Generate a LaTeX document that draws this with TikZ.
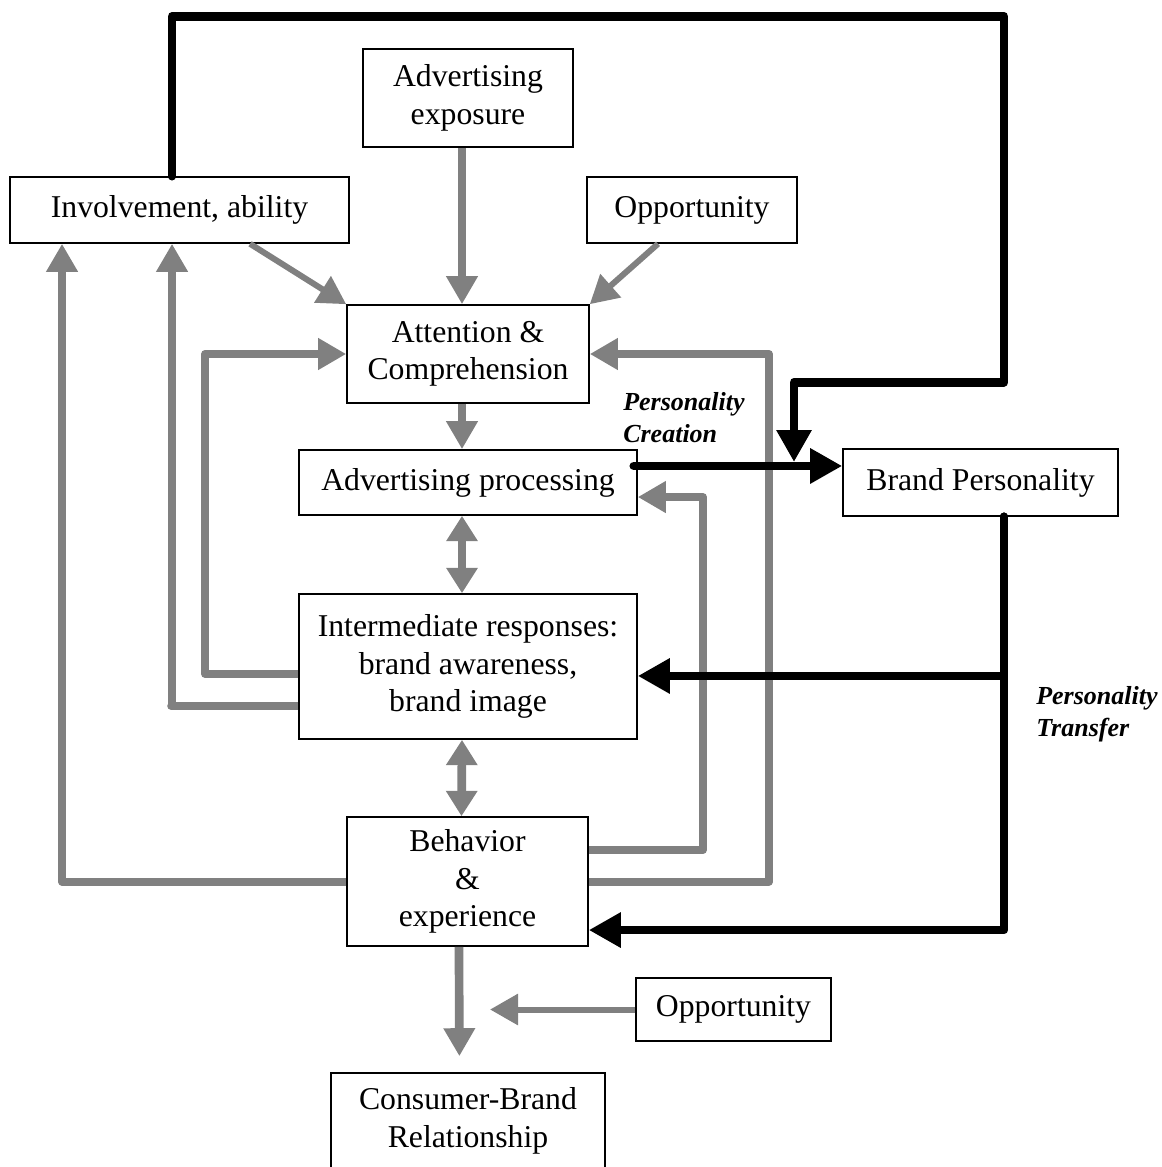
\documentclass[tikz,border=0pt]{standalone}
\usepackage{fontspec}
\setmainfont{Liberation Serif}
\usetikzlibrary{arrows.meta}

\tikzset{
  box/.style={draw, line width=1.2pt, align=center, inner sep=0pt, font=\fontsize{23.8pt}{28pt}\selectfont},
  garrow/.style={draw=gray, line width=6pt, line join=round, -{Triangle[length=21pt,width=22.5pt]}},
  gdouble/.style={draw=gray, line width=6.5pt, {Triangle[length=19pt,width=22.5pt]}-{Triangle[length=19pt,width=22.5pt]}},
  barrow/.style={draw=black, line width=6.5pt, line join=round, line cap=round, -{Triangle[length=24pt,width=25pt]}},
  lbl/.style={align=left, inner sep=0pt, font=\fontsize{19.5pt}{24pt}\selectfont\bfseries\itshape},
}

\begin{document}
\begin{tikzpicture}[x=0.75pt,y=0.75pt,yscale=-1]
    \useasboundingbox (0,0) rectangle (1162,1167);

    %Shape: Rectangle
    \node[box, minimum width=157.5pt, minimum height=73.5pt] (exp) at (468,98) {Advertising\\exposure};
    %Shape: Rectangle
    \node[box, minimum width=254.25pt, minimum height=49.5pt] (inv) at (179.5,210) {Involvement, ability};
    %Shape: Rectangle
    \node[box, minimum width=157.5pt, minimum height=49.5pt] (opp1) at (692,210) {Opportunity};
    %Shape: Rectangle
    \node[box, minimum width=181.5pt, minimum height=73.5pt] (att) at (468,354) {Attention \&\\Comprehension};
    %Shape: Rectangle
    \node[box, minimum width=253.5pt, minimum height=48.75pt] (proc) at (468,482.5) {Advertising processing};
    %Shape: Rectangle
    \node[box, minimum width=206.25pt, minimum height=50.25pt] (bp) at (980.5,482.5) {Brand Personality};
    %Shape: Rectangle
    \node[box, minimum width=253.5pt, minimum height=108.75pt] (inter) at (468,666.5) {Intermediate responses:\\brand awareness,\\brand image};
    %Shape: Rectangle
    \node[box, minimum width=180.75pt, minimum height=96.75pt] (beh) at (467.5,881.5) {Behavior\\\&\\experience};
    %Shape: Rectangle
    \node[box, minimum width=146.25pt, minimum height=47.25pt] (opp2) at (733.5,1009.5) {Opportunity};
    %Shape: Rectangle
    \node[box, minimum width=205.5pt, minimum height=72pt] (cbr) at (468,1121) {Consumer-Brand\\Relationship};

    % Text Node
    \node[lbl, anchor=west] (pcreate) at (623,418) {Personality\\Creation};
    % Text Node
    \node[lbl, anchor=west] (ptrans) at (1036,714) {Personality\\Transfer};

    \coordinate (oppend) at (490,1009.5);
    \coordinate (pc) at (794,462);

    %Straight Lines (gray)
    \draw[garrow, line width=6.5pt] ([xshift=-4.5pt]exp.south) -- ([xshift=-4.5pt]att.north);
    \draw[garrow, line width=4.5pt] ([xshift=52.9pt]inv.south) -- (att.north west);
    \draw[garrow, line width=4.5pt] ([xshift=-25.5pt]opp1.south) -- (att.north east);
    \draw[garrow, line width=6.5pt] ([xshift=-4.5pt]att.south) -- ([xshift=-4.5pt]proc.north);
    \draw[gdouble] ([xshift=-4.5pt]proc.south) -- ([xshift=-4.5pt]inter.north);
    \draw[gdouble] ([xshift=-4.5pt]inter.south) -- ([xshift=-4.5pt]beh.north);
    \draw[garrow, line width=6.5pt, shorten >=12pt] ([xshift=-6.4pt]beh.south) -- ([xshift=-6.4pt]cbr.north);
    \draw[garrow, line width=4.5pt] (opp2.west) -- (oppend);

    %Feedback loops (gray)
    \draw[garrow] ([yshift=5.6pt]inter.west) -- ++(-93,0) |- (att.west);
    \draw[garrow] ([yshift=29.6pt]inter.west) -- ++(-127,0) -| ([xshift=-5.6pt]inv.south);
    \draw[garrow] (beh.west) -| ([xshift=-88.1pt]inv.south);
    \draw[garrow] ([yshift=-23.6pt]beh.east) -- ++(114,0) |- ([yshift=10.9pt]proc.east);
    \draw[garrow] (beh.east) -- ++(180,0) |- (att.east);

    %Personality lines (black)
    \draw[barrow] ([xshift=-5.6pt]inv.north) -- ++(0,-160) -- ++(832,0) -- ++(0,366) -| (pc);
    \draw[barrow] ([xshift=-3pt,yshift=-12.4pt]proc.east) -- ([yshift=-12.4pt]bp.west);
    \draw[barrow] ([xshift=17.6pt]bp.south) |- ([yshift=7.1pt]inter.east);
    \draw[barrow] ([xshift=17.6pt]bp.south) |- ([yshift=36.4pt]beh.east);

\end{tikzpicture}
\end{document}
